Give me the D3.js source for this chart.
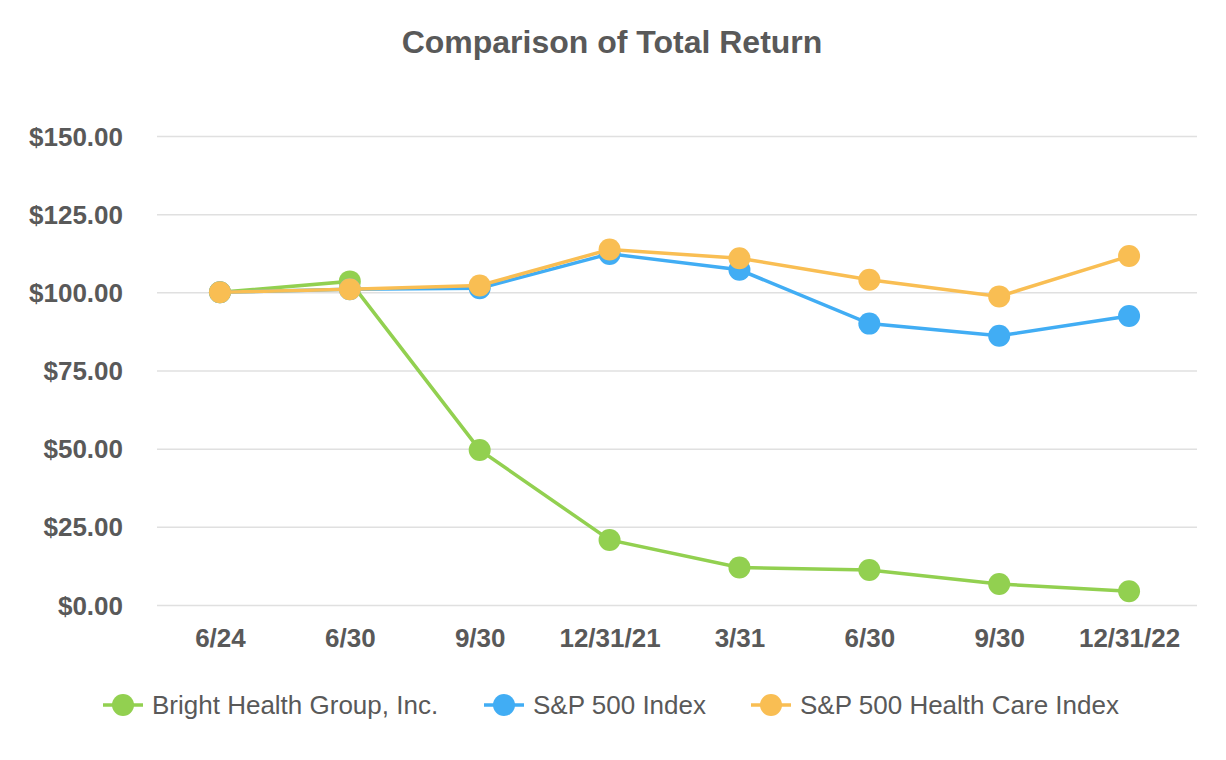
<!DOCTYPE html>
<html><head><meta charset="utf-8">
<script src="https://cdn.jsdelivr.net/npm/d3@7"></script>
<style>body{margin:0;background:#fff;}svg{display:block;font-family:"Liberation Sans",Arial,sans-serif;}</style>
</head><body>
<svg id="c" width="1226" height="760"></svg>
<script>
const categories = ["6/24","6/30","9/30","12/31/21","3/31","6/30 ","9/30 ","12/31/22"];
const brightHealth = [100, 103.5, 49.6, 20.8, 12.0, 11.2, 6.7, 4.4];
const sp500 = [100, 101.0, 101.3, 112.3, 107.2, 90.0, 86.1, 92.4];
const sp500HealthCare = [100, 101.0, 102.2, 113.7, 110.9, 104.0, 98.7, 111.6];
const yTicks = [0, 25, 50, 75, 100, 125, 150];
const seriesNames = ["Bright Health Group, Inc.", "S&P 500 Index", "S&P 500 Health Care Index"];
const seriesColors = ["#92d050", "#41adf4", "#f9be53"];

const series = [brightHealth, sp500, sp500HealthCare].map((v,i)=>({name:seriesNames[i], color:seriesColors[i], values:v}));

const svg = d3.select("#c");
const textColor = "#595959";
const x = d3.scalePoint().domain(categories).range([155,1194]).padding(0.5);
const y = d3.scaleLinear().domain([0,150]).range([605,136]);

svg.append("text").attr("x",612).attr("y",53).attr("text-anchor","middle")
  .attr("font-size",32).attr("font-weight","bold").attr("fill",textColor).text("Comparison of Total Return");

const yAxis = svg.append("g").attr("transform","translate(157,0)")
  .call(d3.axisLeft(y).tickValues(yTicks).tickSize(-1040).tickFormat(d=>"$"+d3.format(".2f")(d)));
yAxis.select(".domain").remove();
yAxis.selectAll(".tick line").attr("stroke","#e0e0e0").attr("stroke-width",1.5);
yAxis.selectAll(".tick text").attr("x",-34).attr("dy","0.35em").attr("font-size",26).attr("font-weight","bold").attr("fill",textColor)
  .attr("font-family","'Liberation Sans',Arial,sans-serif");

const xAxis = svg.append("g").attr("transform","translate(0,605)")
  .call(d3.axisBottom(x).tickSize(0).tickFormat(d=>d.trim()));
xAxis.select(".domain").remove();
xAxis.selectAll(".tick text").attr("dy",0).attr("y",42).attr("font-size",26).attr("font-weight","bold").attr("fill",textColor)
  .attr("font-family","'Liberation Sans',Arial,sans-serif");

const line = d3.line().x((d,i)=>x(categories[i])).y(d=>y(d));
series.forEach(s=>{
  const g = svg.append("g");
  g.append("path").attr("d",line(s.values)).attr("fill","none").attr("stroke",s.color).attr("stroke-width",3.5);
  g.selectAll("circle").data(s.values).join("circle")
    .attr("cx",(d,i)=>x(categories[i])).attr("cy",d=>y(d)).attr("r",11).attr("fill",s.color);
});

const legendX = [103, 484, 751];
series.forEach((s,i)=>{
  const g = svg.append("g").attr("transform",`translate(${legendX[i]},705)`);
  g.append("line").attr("x1",0).attr("x2",40).attr("stroke",s.color).attr("stroke-width",3.5);
  g.append("circle").attr("cx",20).attr("cy",0).attr("r",11).attr("fill",s.color);
  g.append("text").attr("x",49).attr("y",9).attr("font-size",26).attr("fill",textColor).text(s.name);
});
</script>
</body></html>
